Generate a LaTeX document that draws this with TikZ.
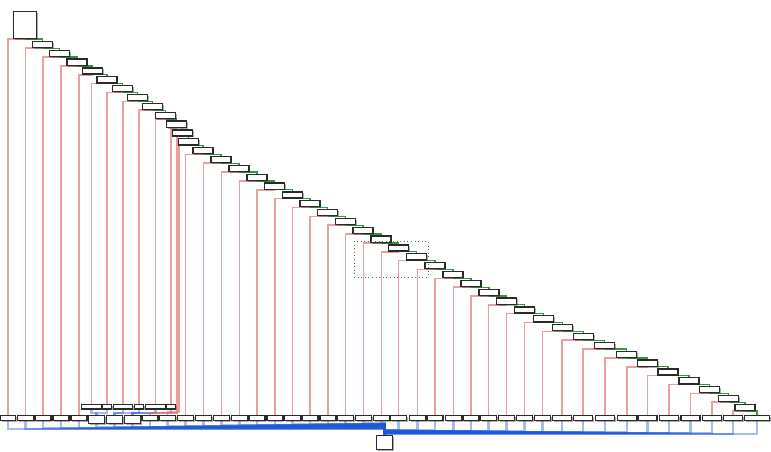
\documentclass[tikz,border=0pt]{standalone}
\usetikzlibrary{backgrounds,shadows}
\definecolor{leftedge}{HTML}{E06A6A}
\definecolor{rightedge}{HTML}{2F9A3A}
\definecolor{busedge}{HTML}{1A56D6}
\definecolor{boxline}{HTML}{2A2A2A}
\tikzset{
  treebox/.style={draw=boxline, fill=white, line width=0.95pt, inner sep=0pt,
    minimum width=15pt, minimum height=4.6pt,
    drop shadow={shadow xshift=1pt, shadow yshift=-1pt, fill=black!70, opacity=0.45}},
  leafbox/.style={treebox, minimum height=4pt},
  subbox/.style={treebox, minimum height=3.6pt},
  tallbox/.style={treebox, minimum width=12pt, minimum height=6.2pt},
  rootbox/.style={treebox, minimum width=12pt, minimum height=10.6pt},
  leftarr/.style={draw=leftedge, line width=1.15pt, draw opacity=0.65},
  rightarr/.style={draw=rightedge, line width=0.95pt},
  busarr/.style={draw=busedge, line width=1.6pt, draw opacity=0.4},
  selbox/.style={draw=black!60, dotted, line width=0.7pt}
}
\begin{document}
\begin{tikzpicture}[x=0.75pt,y=-0.75pt]
  \useasboundingbox (0,0) rectangle (771,452);
  % spine of inner nodes
  \node[treebox, minimum width=17.5pt, minimum height=20pt] (c1) at (25,25) {};
  \foreach \i/\cx in {2/42.5, 3/59.5, 4/77, 5/92.5, 6/107, 7/122.5, 8/137.5,
      9/152.5, 10/165.5, 11/176.5, 12/182.5, 13/188.5, 14/203, 15/221, 16/239,
      17/257, 18/274.7, 19/292.4, 20/309.9, 21/327.7, 22/345.5, 23/363, 24/381,
      25/398.7, 26/416.5, 27/435, 28/453, 29/471, 30/489, 31/506.8, 32/524.7,
      33/543.3, 34/562.7, 35/583.3, 36/604.6, 37/626.3, 38/647.5, 39/668.1,
      40/689.1, 41/709.3, 42/728.5, 43/745} {
    \pgfmathsetmacro\cy{44.5+(\i-2)*8.85}
    \node[treebox] (c\i) at (\cx,\cy) {};
  }
  \node[rootbox] (root) at (384.5,442.5) {};
  % bottom row, each one wired to the root
  \foreach \i/\lx/\lw in {1/8/16, 2/25.5/17, 3/43/17, 4/61/17, 5/79/17,
      12/150/17, 13/167.5/17, 14/185.5/17, 15/203.5/17, 16/221.5/17,
      17/239.5/17, 18/257/17, 19/275/17, 20/292.5/17, 21/310/17, 22/328/17,
      23/345.5/17, 24/363.5/17, 25/381.5/17, 26/398.5/17, 27/417.5/17,
      28/435/17, 29/453.5/17, 30/471/17, 31/488.5/17, 32/506.5/17,
      33/524.5/17, 34/542.5/17, 35/562/20, 36/583/20, 37/605/20, 38/627/20,
      39/647.5/20, 40/669/20, 41/690.5/20, 42/712/20, 43/733/20, 44/757/26} {
    \node[leafbox, minimum width=(\lw-1)*0.75pt] (l\i) at (\lx,418) {};
    \pgfmathsetmacro\by{\lx<384.5 ? 429-6*\lx/384.5 : 430+4*(\lx-384.5)/386}
    \begin{scope}[on background layer]
      \draw[busarr] (l\i.south) -- (\lx,\by) -| (root.north);
    \end{scope}
  }
  \foreach \k/\lx in {1/96.5, 2/114.5, 3/132.5} {
    \node[tallbox] (t\k) at (\lx,419.5) {};
    \pgfmathsetmacro\by{429-6*\lx/384.5}
    \begin{scope}[on background layer]
      \draw[busarr] (t\k.south) -- (\lx,\by) -| (root.north);
    \end{scope}
  }
  % small leaves sitting above the tall ones
  \foreach \i/\lx/\lw in {6/91.5/21, 7/107/10, 8/123/20, 9/139/10,
      10/155.5/21, 11/171/10}
    \node[subbox, minimum width=(\lw-1)*0.75pt] (l\i) at (\lx,406.7) {};
  \begin{scope}[on background layer]
    \foreach \s/\k in {6/1, 7/1, 8/2, 9/2, 10/3, 11/3}
      \draw[busarr] (l\s.south) -- ++(0,3) -| (t\k.north);
    % left children
    \foreach \i in {1,...,11}
      \draw[leftarr] (c\i.south) -| (l\i.north);
    \foreach \i in {14,...,43}
      \draw[leftarr] (c\i.south) -| (l\i.north);
    \coordinate (k12) at (177,413);
    \coordinate (k13) at (179,412);
    \draw[leftarr] (c12.south) -| (k12) -| (l12.north);
    \draw[leftarr] (c13.south) -| (k13) -| (l13.north);
    % right children
    \foreach \i [count=\j from 2] in {1,...,42}
      \draw[rightarr] (c\i.south) -| (c\j.north);
    \draw[rightarr] (c43.south) -| (l44.north);
  \end{scope}
  \draw[selbox] (354,241) rectangle (428,277);
\end{tikzpicture}
\end{document}
